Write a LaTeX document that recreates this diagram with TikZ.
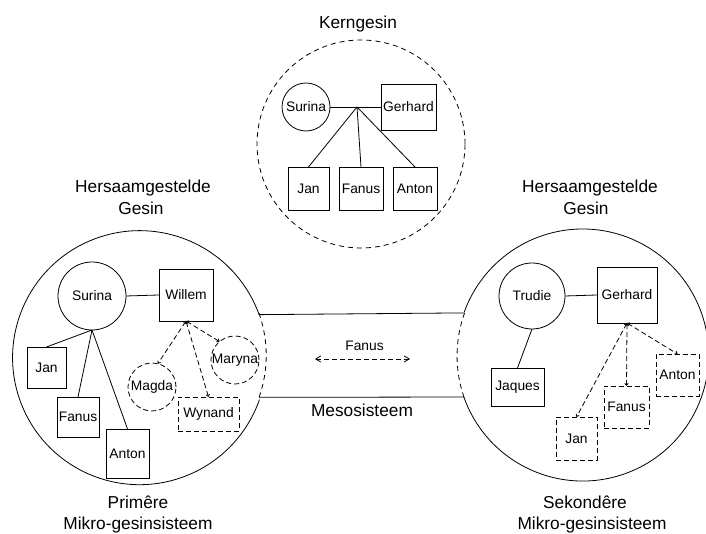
\documentclass[tikz,border=0pt]{standalone}
\usepackage{fontspec}
\setmainfont{Liberation Sans}
\usetikzlibrary{arrows.meta}
\tikzset{
  every node/.style={inner sep=0pt, outer sep=0pt},
  nf/.style={font=\fontsize{13.8}{16}\selectfont},
  lf/.style={font=\fontsize{17.3}{20}\selectfont, anchor=base},
  pbox/.style={nf, draw, line width=0.8pt, rectangle},
  pcirc/.style={nf, draw, line width=0.8pt, circle, minimum size=#1},
  dbox/.style={pbox, dash pattern=on 5pt off 3pt},
  dcirc/.style={pcirc=#1, dash pattern=on 5pt off 3pt},
  ring/.style={circle, draw=none, minimum size=#1},
  ln/.style={line width=0.8pt},
  dln/.style={line width=0.8pt, dash pattern=on 5pt off 3pt,
    {Straight Barb[length=2pt,width=3.5pt]}-{Straight Barb[length=2pt,width=3.5pt]}},
  bigdash/.style={line width=0.8pt, dash pattern=on 5pt off 4pt},
}
\begin{document}
\begin{tikzpicture}[x=1pt,y=1pt]
\useasboundingbox (0,0) rectangle (706,534);

% ---------- Kerngesin ----------
\node[lf] (tK) at (358,505) {Kerngesin};
\node[ring=208, draw, bigdash] (K) at (361,390) {};
\node[pcirc=48] (kS) at (306,427) {Surina};
\node[pbox, minimum width=55, minimum height=46] (kG) at (408.5,427) {Gerhard};
\node[pbox, minimum width=41, minimum height=43] (kJ) at (308.5,345.5) {Jan};
\node[pbox, minimum width=44, minimum height=43] (kF) at (361,345.5) {Fanus};
\node[pbox, minimum width=44, minimum height=43] (kA) at (415,345.5) {Anton};
\coordinate (kX) at (357,427);
\draw[ln] (kS.east) -- (kG.west);
\draw[ln] (kX) -- (kJ.north);
\draw[ln] (kX) -- (kF.north);
\draw[ln] (kX) -- (kA.north);

% ---------- outer circles ----------
\node[ring=254] (L) at (139,178) {};
\node[ring=252] (R) at (583,178) {};
\draw[ln] (L.19.8) arc[start angle=19.8, end angle=340.7, radius=127pt];
\draw[bigdash] (L.-19.3) arc[start angle=-19.3, end angle=19.8, radius=127pt];
\draw[ln] (R.199.47) arc[start angle=199.47, end angle=520.05, radius=126pt];
\draw[bigdash] (R.160.05) arc[start angle=160.05, end angle=199.47, radius=126pt];
\draw[ln] (L.19.8) -- (R.160.05);
\draw[ln] (L.-19.3) -- (R.199.47);

% ---------- labels ----------
\node[lf] (tL1) at (143,341) {Hersaamgestelde};
\node[lf] (tL2) at (141,319) {Gesin};
\node[lf] (tR1) at (590,341) {Hersaamgestelde};
\node[lf] (tR2) at (586,319) {Gesin};
\node[lf] (bL1) at (138,25) {Primêre};
\node[lf] (bL2) at (138,4.5) {Mikro-gesinsisteem};
\node[lf] (bR1) at (585,25) {Sekondêre};
\node[lf] (bR2) at (592,4.5) {Mikro-gesinsisteem};
\node[lf] (mes) at (362,117) {Mesosisteem};

% ---------- mesosystem Fanus ----------
\node[nf, anchor=base] (mF) at (364.5,183) {Fanus};
\coordinate (mA) at (315,175);
\coordinate (mB) at (410,175);
\draw[line width=0.8pt, dash pattern=on 5pt off 3pt,
  {Straight Barb[length=5pt,width=6pt]}-{Straight Barb[length=5pt,width=6pt]}] (mA) -- (mB);

% ---------- primary family ----------
\node[pcirc=68] (lS) at (92,238) {Surina};
\node[pbox, minimum width=54, minimum height=52] (lW) at (186,239) {Willem};
\node[pbox, minimum width=39, minimum height=41] (lJ) at (46.5,166.5) {Jan};
\node[pbox, minimum width=42, minimum height=40] (lF) at (78,117) {Fanus};
\node[pbox, minimum width=43, minimum height=49] (lA) at (127.5,80.5) {Anton};
\node[dcirc=48] (lM) at (152,147) {Magda};
\node[dcirc=48] (lY) at (235,174) {Maryna};
\node[dbox, minimum width=61, minimum height=34] (lN) at (208.5,120) {Wynand};
\draw[ln] (lS.east) -- (lW.west);
\draw[ln] (lS.south) -- (lJ.north);
\draw[ln] (lS.south) -- (lF.north);
\draw[ln] (lS.south) -- (lA.north);
\draw[dln] (lW.south) -- (lM.76);
\draw[dln] (lW.south) -- (lN.north);
\draw[dln] (lW.south) -- (lY.130);

% ---------- secondary family ----------
\node[pcirc=66] (rT) at (532,238) {Trudie};
\node[pbox, minimum width=60, minimum height=56] (rG) at (627,239) {Gerhard};
\node[pbox, minimum width=53, minimum height=38] (rQ) at (517.5,147) {Jaques};
\node[dbox, minimum width=41, minimum height=43] (rJ) at (576.5,95.5) {Jan};
\node[dbox, minimum width=45, minimum height=42] (rF) at (626.5,127) {Fanus};
\node[dbox, minimum width=43, minimum height=42] (rA) at (677.5,159) {Anton};
\draw[ln] (rT.east) -- (rG.west);
\draw[ln] (rT.south) -- (rQ.north);
\draw[dln] (rG.south) -- (rJ.north);
\draw[dln] (rG.south) -- (rF.north);
\draw[dln] (rG.south) -- (rA.north);
\end{tikzpicture}
\end{document}
